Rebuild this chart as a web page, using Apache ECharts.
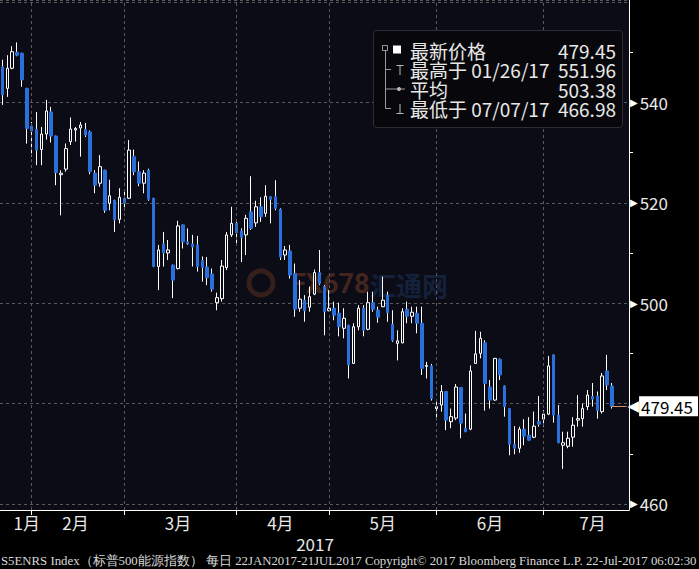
<!DOCTYPE html>
<html><head><meta charset="utf-8">
<script src="https://cdn.jsdelivr.net/npm/echarts@6/dist/echarts.min.js"></script>
<style>html,body{margin:0;padding:0;background:#000;}#c{width:699px;height:569px;}</style>
</head><body><div id="c"></div>
<script>
// ---------------- data ----------------
const firstDay = '2017-01-23';
const lastDay = '2017-07-21';
const holidays = ['2017-02-20', '2017-04-14', '2017-05-29', '2017-07-04'];

const opens = [
547.1,542.8,546.8,550.0,549.8,542.8,535.3,534.6,530.6,533.7,
538.1,533.3,525.6,526.7,532.2,534.5,534.9,534.6,534.1,525.9,
523.9,526.5,519.9,520.5,516.7,520.9,520.9,529.2,526.2,523.9,
526.5,520.9,507.3,511.8,510.0,507.6,506.9,515.6,512.2,511.8,
511.6,508.5,507.2,505.8,500.1,500.9,507.1,513.6,515.9,514.4,
513.6,518.2,516.0,519.2,517.9,521.2,521.2,518.7,509.6,510.4,
505.9,499.0,500.6,499.2,501.8,506.1,503.3,498.5,499.0,498.0,
495.0,495.6,488.0,495.3,499.0,494.8,500.1,498.6,499.3,501.6,
495.8,492.0,492.1,498.8,497.4,498.0,496.0,487.4,487.5,479.0,
479.7,482.4,476.4,477.1,483.2,475.1,474.9,488.0,490.0,492.1,
483.3,480.7,488.8,483.5,479.0,471.9,471.1,474.9,473.7,473.3,
476.4,476.9,477.9,489.7,477.7,471.7,471.5,473.3,476.7,477.0,
479.4,481.4,481.5,478.4,486.5,483.5];
const closes = [
541.5,546.8,550.1,549.4,544.5,534.8,534.3,530.5,533.7,538.3,
533.3,526.0,525.9,530.8,534.7,534.8,535.5,533.5,526.2,523.5,
527.2,518.5,521.4,516.6,521.1,519.9,530.5,526.2,523.9,525.9,
520.7,507.3,510.6,510.0,510.6,504.6,515.4,512.2,511.8,511.2,
507.3,507.1,505.1,502.8,501.1,507.4,513.6,515.9,514.0,513.1,
516.9,514.9,519.2,517.2,521.3,520.7,518.9,509.2,510.6,505.6,
498.8,500.8,498.5,501.3,506.1,503.9,498.3,499.0,497.6,495.3,
497.0,487.7,495.3,499.0,494.6,500.1,498.8,497.2,500.6,498.1,
492.6,492.5,498.3,497.4,498.2,496.0,487.0,487.6,481.0,479.4,
482.4,476.7,477.4,483.3,476.1,474.4,486.5,489.9,493.0,484.0,
480.7,489.0,485.7,479.4,471.9,471.1,474.9,473.5,472.7,475.5,
475.9,477.9,487.5,477.7,472.2,472.2,473.1,475.7,477.0,479.0,
481.7,480.9,478.6,485.5,483.7,479.45];
const lows = [
539.5,541.1,546.6,549.2,543.1,531.8,529.2,527.5,527.5,532.6,
532.0,523.5,517.5,526.2,531.5,532.2,529.2,533.1,525.7,521.9,
523.2,518.0,518.5,514.2,515.9,518.5,520.8,525.5,523.3,521.9,
520.4,507.2,502.6,507.3,508.6,501.0,506.7,510.9,511.6,507.3,
506.3,504.3,503.6,502.3,498.6,500.3,506.6,513.2,511.9,508.2,
509.6,514.6,515.2,516.2,517.2,515.9,518.5,508.6,508.6,504.9,
497.3,498.3,496.3,498.3,501.6,503.6,493.6,498.4,496.6,493.4,
493.0,485.0,487.9,494.6,493.4,494.6,498.3,496.1,499.2,496.3,
492.3,488.6,492.0,496.0,496.0,494.0,485.7,485.0,480.6,476.7,
478.4,474.7,475.1,476.7,473.1,474.3,474.7,487.9,489.0,478.6,
479.0,480.6,484.7,477.4,469.7,469.9,470.2,471.7,472.6,473.1,
475.4,475.4,477.7,476.2,472.1,466.98,471.1,471.4,475.4,475.4,
478.7,479.4,477.0,478.0,482.7,479.0];
const highs = [
548.5,549.4,551.2,551.96,549.9,542.9,536.1,538.1,535.1,540.5,
539.1,533.4,526.5,531.8,537.0,535.1,536.1,535.9,534.4,526.5,
529.5,526.6,524.6,520.6,522.9,522.2,532.5,530.6,528.2,526.5,
526.8,521.0,511.6,514.2,512.6,507.7,516.4,515.7,514.9,513.6,
513.4,509.3,509.2,506.9,502.1,508.6,514.2,519.2,516.6,514.9,
517.6,525.3,520.4,521.1,523.5,521.3,524.5,518.9,511.4,511.6,
507.9,504.6,501.6,503.3,506.7,510.6,503.6,502.6,500.3,500.1,
499.0,495.7,496.0,499.6,499.6,502.3,502.3,499.3,505.3,502.3,
498.6,494.6,499.0,500.3,499.3,499.3,499.3,488.3,487.9,480.7,
483.7,482.5,479.0,483.9,483.3,478.0,487.6,494.5,494.3,492.6,
484.7,489.1,489.0,483.6,479.1,475.5,475.4,476.9,477.3,478.4,
481.5,478.7,489.5,489.8,479.7,474.4,474.4,477.3,481.7,480.0,
482.7,484.1,482.4,486.1,489.7,484.1];

const monthTickDates = ['2017-01-30','2017-02-13','2017-03-15','2017-04-13','2017-05-15','2017-06-15','2017-07-17'];
const monthTickLabels = ['1月','2月','3月','4月','5月','6月','7月'];
const yearLabel = '2017';
const yLabelValues = [460, 500, 520, 540];   // 480 is hidden behind the last-price tag
const padCats = ['pad1', 'pad2', 'pad3'];

const lastPrice = 479.45;
const lastPriceText = '479.45';
const legendNames = ['最新价格', '最高于 01/26/17', '平均', '最低于 07/07/17'];
const legendValues = ['479.45', '551.96', '503.38', '466.98'];
const footerText = 'S5ENRS Index（标普500能源指数） 每日 22JAN2017-21JUL2017 Copyright© 2017 Bloomberg Finance L.P. 22-Jul-2017 06:02:30';
const watermarkTexts = ['FX678', '汇通网'];

// ---------------- build ----------------
function tradingDays() {
  const out = [];
  let t = Date.parse(firstDay + 'T00:00:00Z');
  const end = Date.parse(lastDay + 'T00:00:00Z');
  while (t <= end) {
    const d = new Date(t);
    const wd = d.getUTCDay();
    const s = d.toISOString().slice(0, 10);
    if (wd !== 0 && wd !== 6 && holidays.indexOf(s) < 0) out.push(s);
    t += 86400000;
  }
  return out;
}
const dates = tradingDays();
const cats = dates.concat(padCats);
const monthEnds = [];
for (let i = 0; i < dates.length - 1; i++) {
  if (dates[i].slice(5, 7) !== dates[i + 1].slice(5, 7)) monthEnds.push(dates[i]);
}

const wickData = opens.map((o, i) => [o, closes[i], lows[i], highs[i]]);
const bodyData = opens.map((o, i) => [o, closes[i], Math.min(o, closes[i]), Math.max(o, closes[i])]);

const BG = '#0b0c16';
const BLUE = '#2a70dc';
const TXT = '#e8e8e8';
const CJK = '"Noto Sans CJK SC", "Noto Sans", sans-serif';

const legendRowsY = [50, 69.5, 89, 108.5];
const legendEls = [
  {type: 'rect', z: 10, shape: {x: 373.5, y: 30.5, width: 249, height: 97, r: 3}, style: {fill: '#08080c', stroke: '#2c2c34', lineWidth: 1}},
  {type: 'rect', z: 11, shape: {x: 382.5, y: 45.5, width: 5, height: 5}, style: {fill: 'none', stroke: '#9a9a9a', lineWidth: 1}},
  {type: 'polyline', z: 11, shape: {points: [[385.5, 50.5], [385.5, 108.5], [391, 108.5]]}, style: {stroke: '#9a9a9a', lineWidth: 1, fill: 'none'}},
  {type: 'line', z: 11, shape: {x1: 385.5, y1: 69.5, x2: 391, y2: 69.5}, style: {stroke: '#9a9a9a', lineWidth: 1}},
  {type: 'line', z: 11, shape: {x1: 385.5, y1: 89, x2: 405, y2: 89}, style: {stroke: '#9a9a9a', lineWidth: 1}},
  {type: 'rect', z: 11, shape: {x: 393, y: 45.5, width: 8, height: 8}, style: {fill: '#ffffff'}},
  {type: 'line', z: 11, shape: {x1: 396.5, y1: 65.5, x2: 403.5, y2: 65.5}, style: {stroke: '#bbbbbb', lineWidth: 1}},
  {type: 'line', z: 11, shape: {x1: 400, y1: 65.5, x2: 400, y2: 75}, style: {stroke: '#bbbbbb', lineWidth: 1}},
  {type: 'circle', z: 11, shape: {cx: 399, cy: 89, r: 2}, style: {fill: '#bbbbbb'}},
  {type: 'line', z: 11, shape: {x1: 400, y1: 104, x2: 400, y2: 113.5}, style: {stroke: '#bbbbbb', lineWidth: 1}},
  {type: 'line', z: 11, shape: {x1: 396.5, y1: 113.5, x2: 403.5, y2: 113.5}, style: {stroke: '#bbbbbb', lineWidth: 1}}
];
legendNames.forEach((n, i) => {
  legendEls.push({type: 'text', z: 11, x: 410, y: legendRowsY[i], style: {text: n, fill: TXT, font: '19px ' + CJK, lineHeight: 19, textAlign: 'left', textVerticalAlign: 'middle'}});
  legendEls.push({type: 'text', z: 11, x: 616, y: legendRowsY[i], style: {text: legendValues[i], fill: TXT, font: '19px ' + CJK, lineHeight: 19, textAlign: 'right', textVerticalAlign: 'middle'}});
});

const otherEls = [
  {type: 'circle', z: 1, shape: {cx: 261, cy: 283, r: 12}, style: {fill: 'none', stroke: 'rgba(150,75,40,0.3)', lineWidth: 5}},
  {type: 'text', z: 1, x: 291, y: 284, style: {text: watermarkTexts[0], fill: 'rgba(160,80,40,0.38)', font: 'bold 27px Roboto', textAlign: 'left', textVerticalAlign: 'middle'}},
  {type: 'text', z: 1, x: 370, y: 284, style: {text: watermarkTexts[1], fill: 'rgba(40,75,130,0.35)', font: 'bold 26px ' + CJK, textAlign: 'left', textVerticalAlign: 'middle'}},
  {type: 'text', x: 315, y: 543, style: {text: yearLabel, fill: TXT, font: '17px ' + CJK, textAlign: 'center', textVerticalAlign: 'middle'}},
  {type: 'text', x: 1, y: 561, style: {text: footerText, fill: '#d8d8d8', font: '12.8px "Liberation Serif"', textAlign: 'left', textVerticalAlign: 'middle'}}
];

const chart = echarts.init(document.getElementById('c'), null, {renderer: 'svg'});
chart.setOption({
  backgroundColor: '#000',
  animation: false,
  grid: {left: -1.5, right: 70, top: 0, bottom: 59, show: true, backgroundColor: BG, borderWidth: 0},
  xAxis: {
    type: 'category', data: cats, boundaryGap: true,
    axisLine: {show: true, lineStyle: {color: '#ffffff', width: 1}},
    axisTick: {show: true, alignWithLabel: true, length: 5, interval: (i, v) => monthEnds.indexOf(v) >= 0, lineStyle: {color: '#ffffff'}},
    axisLabel: {
      interval: (i, v) => monthTickDates.indexOf(v) >= 0,
      formatter: v => { const k = monthTickDates.indexOf(v); return k >= 0 ? monthTickLabels[k] : ''; },
      color: TXT, fontSize: 17, fontFamily: CJK, margin: 4
    },
    splitLine: {show: false}
  },
  yAxis: {
    type: 'value', position: 'right', min: 458.8, max: 560.4, splitNumber: 5, minInterval: 20, maxInterval: 20,
    axisLine: {show: true, lineStyle: {color: '#ffffff', width: 1}},
    axisTick: {show: true, length: 0},
    minorTick: {show: true, splitNumber: 2, length: 4, lineStyle: {color: '#ffffff', width: 1}},
    splitLine: {show: true, lineStyle: {color: '#5a5a5a', type: [3, 3], width: 1}},
    axisLabel: {
      margin: 1,
      formatter: v => yLabelValues.indexOf(Math.round(v * 100) / 100) >= 0 ? '{t|▶}{v|' + Math.round(v) + '}' : '',
      rich: {
        t: {fontSize: 10, color: '#ffffff', fontFamily: '"DejaVu Sans"', padding: [0, 2, 0, 0]},
        v: {fontSize: 17, color: TXT, fontFamily: CJK}
      }
    }
  },
  series: [
    {
      type: 'candlestick', name: 'wick', data: wickData, barWidth: 1, silent: true, z: 2,
      itemStyle: {color: '#ffffff', color0: '#ffffff', borderColor: '#ffffff', borderColor0: '#ffffff', borderWidth: 1},
      markLine: {
        silent: true, symbol: 'none', animation: false,
        lineStyle: {color: '#5a5a5a', type: [3, 3], width: 1},
        label: {show: false},
        data: monthEnds.map(d => ({xAxis: d}))
      }
    },
    {
      type: 'candlestick', name: 'body', data: bodyData, barWidth: 3, silent: true, z: 3,
      itemStyle: {color: BG, color0: BLUE, borderColor: '#ffffff', borderColor0: BLUE, borderWidth: 1},
      markLine: {
        silent: true, symbol: 'none', animation: false,
        lineStyle: {color: '#e0915e', type: 'solid', width: 1},
        label: {
          show: true, position: 'end', distance: 1, formatter: () => '{a|◀}{b|' + lastPriceText + '}',
          rich: {
            a: {color: '#ffffff', fontSize: 15, fontFamily: '"DejaVu Sans"', verticalAlign: 'middle', padding: [0, 0, 0, 0]},
            b: {color: '#000', backgroundColor: '#ffffff', padding: [2, 5, 1, 2], fontSize: 17, fontFamily: CJK, verticalAlign: 'middle'}
          }
        },
        data: [[{coord: [dates[dates.length - 1], lastPrice]}, {coord: [padCats[padCats.length - 1], lastPrice]}]]
      }
    }
  ],
  graphic: legendEls.concat(otherEls)
});
</script></body></html>
